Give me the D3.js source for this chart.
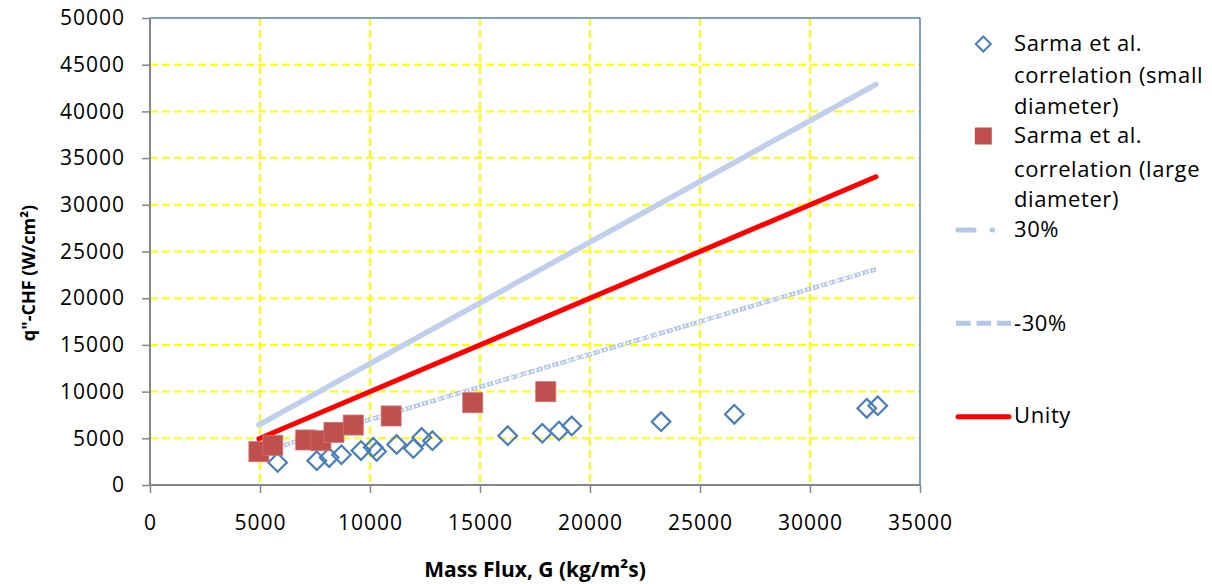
<!DOCTYPE html>
<html>
<head>
<meta charset="utf-8">
<script src="https://cdn.jsdelivr.net/npm/d3@7"></script>
<style>
  html, body { margin: 0; padding: 0; background: #fff; }
  svg { display: block; }
  text { font-family: "Open Sans", "Noto Sans", sans-serif; fill: #000; }
</style>
</head>
<body>
<svg id="chart" width="1212" height="584"></svg>
<script>
// Sarma et al. correlation, small diameter tubes
const smallG = [5800, 7580, 8140, 8700, 9590, 10150, 10300, 11210, 11970, 12350, 12840, 16260, 17830, 18590, 19170, 23230, 26560, 32580, 33080];
const smallQ = [2410, 2600, 2940, 3240, 3690, 4040, 3590, 4340, 3910, 5090, 4740, 5280, 5540, 5780, 6320, 6780, 7570, 8210, 8490];

// Sarma et al. correlation, large diameter tubes
const largeG = [4950, 5580, 7080, 7770, 8360, 9240, 10960, 14670, 17990];
const largeQ = [3570, 4250, 4820, 4740, 5640, 6420, 7390, 8810, 9990];

// Reference lines (end points)
const refG    = [4950, 33000];
const unity   = [4950, 33000];
const plus30  = [6435, 42900];
const minus30 = [3465, 23100];

const xTicks = [0, 5000, 10000, 15000, 20000, 25000, 30000, 35000];
const yTicks = [0, 5000, 10000, 15000, 20000, 25000, 30000, 35000, 40000, 45000, 50000];

const legendItems = [
  { key: "small", lines: ["Sarma et al.", "correlation (small", "diameter)"] },
  { key: "large", lines: ["Sarma et al.", "correlation (large", "diameter)"] },
  { key: "plus",  lines: ["30%"] },
  { key: "minus", lines: ["-30%"] },
  { key: "unity", lines: ["Unity"] }
];

const svg = d3.select("#chart");
const L = 150, R = 920, T = 18, B = 485;

const x = d3.scaleLinear().domain([0, 35000]).range([L, R]);
const y = d3.scaleLinear().domain([0, 50000]).range([B, T]);

const YELLOW = "#ffff00", AXIS = "#868686", BORDER = "#4f81bd";
const BLUE = "#4a7ebb", RED_SQ = "#c0504d", PALE = "#bfcfec";

// Grid
const grid = svg.append("g");
grid.selectAll("line.v").data(xTicks.filter(d => d > 0 && d < 35000)).join("line")
  .attr("x1", d => x(d)).attr("x2", d => x(d)).attr("y1", T).attr("y2", B)
  .attr("stroke", YELLOW).attr("stroke-width", 2).attr("stroke-dasharray", "8,4");
grid.selectAll("line.h").data(yTicks.filter(d => d > 0 && d < 50000)).join("line")
  .attr("x1", L).attr("x2", R).attr("y1", d => y(d)).attr("y2", d => y(d))
  .attr("stroke", YELLOW).attr("stroke-width", 2).attr("stroke-dasharray", "8,4");

// Plot-area border (top and right)
svg.append("line").attr("x1", L).attr("x2", R).attr("y1", T).attr("y2", T)
  .attr("stroke", BORDER).attr("stroke-width", 1.5);
svg.append("line").attr("x1", R).attr("x2", R).attr("y1", T).attr("y2", B)
  .attr("stroke", BORDER).attr("stroke-width", 1.5);

// Axes
const xAxis = svg.append("g").attr("transform", `translate(0,${B})`)
  .call(d3.axisBottom(x).tickValues(xTicks).tickSize(8).tickPadding(22).tickFormat(d3.format("d")));
const yAxis = svg.append("g").attr("transform", `translate(${L},0)`)
  .call(d3.axisLeft(y).tickValues(yTicks).tickSize(8).tickPadding(17).tickFormat(d3.format("d")));
[xAxis, yAxis].forEach(a => {
  a.select(".domain").attr("stroke", AXIS).attr("stroke-width", 2);
  a.selectAll(".tick line").attr("stroke", AXIS).attr("stroke-width", 1.5);
  a.selectAll(".tick text").attr("font-size", 21).attr("letter-spacing", "1px")
    .attr("font-family", "'Open Sans', sans-serif").attr("fill", "#000");
});
xAxis.select(".domain").attr("d", `M${L},0H${R}`);
yAxis.select(".domain").attr("d", `M0,${T}V${B}`);

// Reference lines
const line = d3.line().x(d => x(d[0])).y(d => y(d[1]));
const pts = arr => refG.map((g, i) => [g, arr[i]]);

svg.append("path").datum(pts(plus30)).attr("d", line)
  .attr("fill", "none").attr("stroke", PALE).attr("stroke-width", 5.5).attr("stroke-linecap", "round");

// -30%: pale dashed band with a speckled light core
svg.append("path").datum(pts(minus30)).attr("d", line)
  .attr("fill", "none").attr("stroke", "#b3c5e8").attr("stroke-width", 4.5).attr("stroke-dasharray", "7,1.5");
svg.append("path").datum(pts(minus30)).attr("d", line)
  .attr("fill", "none").attr("stroke", "#ffffff").attr("stroke-opacity", 0.85)
  .attr("stroke-width", 2.2).attr("stroke-dasharray", "2,2");

svg.append("path").datum(pts(unity)).attr("d", line)
  .attr("fill", "none").attr("stroke", "#ff0000").attr("stroke-width", 5).attr("stroke-linecap", "round");

// Markers
const diamond = (cx, cy, h) => `M${cx},${cy - h}L${cx + h},${cy}L${cx},${cy + h}L${cx - h},${cy}Z`;

svg.append("g").selectAll("path").data(smallG.map((g, i) => [g, smallQ[i]])).join("path")
  .attr("d", d => diamond(x(d[0]), y(d[1]), 9.3))
  .attr("fill", "none").attr("stroke", BLUE).attr("stroke-width", 2.2);

svg.append("g").selectAll("rect").data(largeG.map((g, i) => [g, largeQ[i]])).join("rect")
  .attr("x", d => x(d[0]) - 10).attr("y", d => y(d[1]) - 10)
  .attr("width", 20).attr("height", 20)
  .attr("fill", RED_SQ).attr("stroke", "#cd6f6c").attr("stroke-width", 0.8);

// Axis titles
svg.append("text").attr("x", (L + R) / 2).attr("y", 577).attr("text-anchor", "middle")
  .attr("font-size", 21).attr("font-weight", "bold").text("Mass Flux, G (kg/m²s)");
svg.append("text").attr("transform", `translate(35,273) rotate(-90)`).attr("text-anchor", "middle")
  .attr("font-size", 18).attr("font-weight", "bold").text("q\"-CHF (W/cm²)");

// Legend
const lg = svg.append("g");
const textX = 1014;
const baselines = [[50.7, 83, 114.3], [143.3, 176.7, 206.7], [237.3], [330.7], [423.3]];
legendItems.forEach((item, i) => {
  item.lines.forEach((t, j) => {
    lg.append("text").attr("x", textX).attr("y", baselines[i][j])
      .attr("font-size", 22).attr("letter-spacing", "0.6px").text(t);
  });
});
lg.append("path").attr("d", diamond(983.3, 44, 7.5))
  .attr("fill", "none").attr("stroke", BLUE).attr("stroke-width", 2);
lg.append("rect").attr("x", 983.3 - 8.5).attr("y", 136 - 8.5).attr("width", 17).attr("height", 17)
  .attr("fill", RED_SQ);
lg.append("line").attr("x1", 958).attr("x2", 1010).attr("y1", 230).attr("y2", 230)
  .attr("stroke", "#b4c7e7").attr("stroke-width", 5).attr("stroke-linecap", "round")
  .attr("stroke-dasharray", "16,18,0.5,40");
lg.append("line").attr("x1", 956).attr("x2", 1011).attr("y1", 323.3).attr("y2", 323.3)
  .attr("stroke", "#b4c7e7").attr("stroke-width", 5).attr("stroke-dasharray", "14.5,6");
lg.append("line").attr("x1", 958).attr("x2", 1009).attr("y1", 416.7).attr("y2", 416.7)
  .attr("stroke", "#ff0000").attr("stroke-width", 5).attr("stroke-linecap", "round");
</script>
</body>
</html>
